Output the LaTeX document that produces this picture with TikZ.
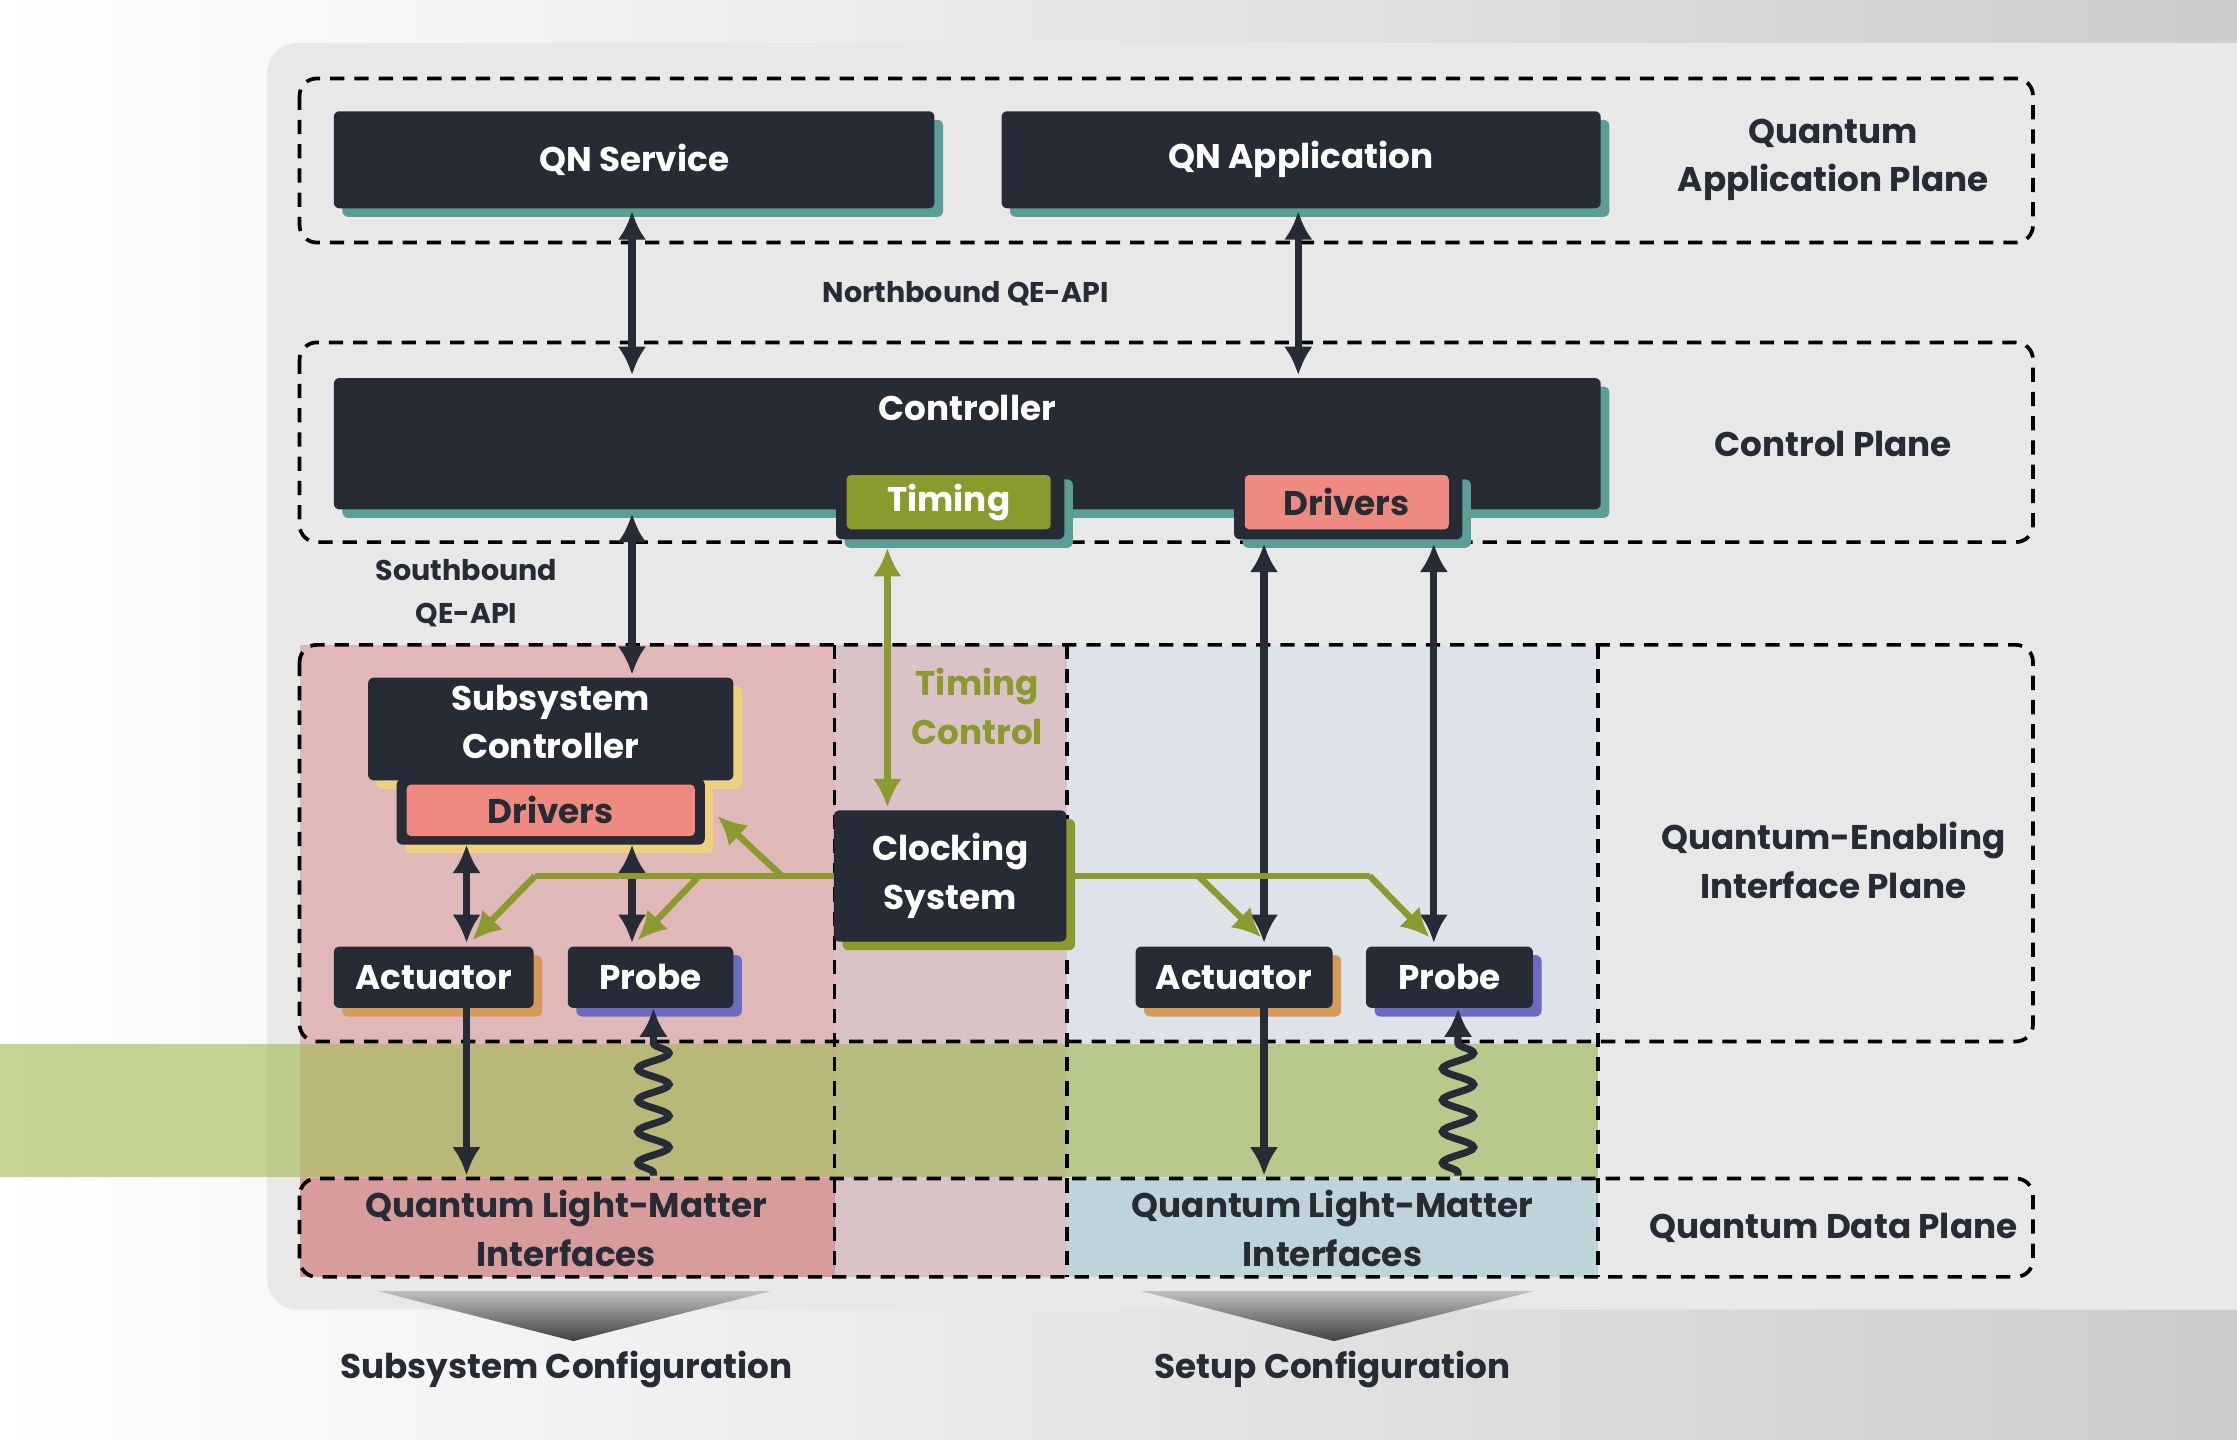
\documentclass[tikz,border=0pt]{standalone}
\usepackage{fontspec}
\setmainfont{Poppins}
\usetikzlibrary{arrows.meta,shadows,decorations.pathmorphing}
\definecolor{dark}{HTML}{262B36}
\definecolor{tealsh}{HTML}{5A9E96}
\definecolor{olive}{HTML}{8A9A2E}
\definecolor{salmon}{HTML}{EE8A80}
\definecolor{yellowsh}{HTML}{F0D080}
\definecolor{orangesh}{HTML}{D59A5A}
\definecolor{purplesh}{HTML}{6B6BC0}
\definecolor{redreg}{HTML}{E0B8B8}
\definecolor{reddata}{HTML}{D99C9C}
\definecolor{midreg}{HTML}{D9C3C6}
\definecolor{bluereg}{HTML}{DDE3E8}
\definecolor{bluedata}{HTML}{BFD3DA}
\definecolor{band}{HTML}{A0B950}
\tikzset{
  box/.style={fill=dark, rounded corners=4pt, text=white, inner sep=0pt, align=center,
    font=\fontsize{24}{34}\selectfont\bfseries,
    drop shadow={shadow xshift=6pt, shadow yshift=-6pt, fill=#1, opacity=1}},
  box/.default=tealsh,
  plane/.style={draw=black, line width=2.6pt, dash pattern=on 10pt off 7pt, rounded corners=12pt},
  vline/.style={draw=black, line width=2.6pt, dash pattern=on 10pt off 7pt},
  lbl/.style={align=center, font=\fontsize{24}{34}\selectfont\bfseries, text=dark},
  api/.style={align=center, font=\fontsize{20}{30}\selectfont\bfseries, text=dark},
  link/.style={draw=dark, line width=5pt, {Latex[length=20pt,width=20pt]}-{Latex[length=20pt,width=20pt]}},
  glink/.style={draw=olive, line width=4.5pt},
}
\begin{document}
\begin{tikzpicture}[x=1pt,y=-1pt]
\useasboundingbox (0,0) rectangle (1568,1009);
% background
\shade[left color=white, right color=black!20] (0,0) rectangle (1568,1009);
\fill[black!9, rounded corners=22pt] (187,30) rectangle (1620,918);
% regions
\fill[redreg] (210,452) rectangle (585,895);
\fill[reddata] (210,826) rectangle (585,895);
\fill[midreg] (585,452) rectangle (748,895);
\fill[bluereg] (748,452) rectangle (1120,895);
\fill[bluedata] (748,826) rectangle (1120,895);
\fill[band, opacity=0.6] (0,732) rectangle (1120,825);
% planes
\draw[plane] (210,55) rectangle (1425,170);
\draw[plane] (210,240) rectangle (1425,380);
\draw[plane] (210,452) rectangle (1425,730);
\draw[plane] (210,826) rectangle (1425,895);
\draw[vline] (585,452) -- (585,895);
\draw[vline] (748,452) -- (748,895);
\draw[vline] (1120,452) -- (1120,895);
% configuration wedges
\shade[top color=black!25, bottom color=black!75] (265,905) -- (540,905) -- (402,940) -- cycle;
\shade[top color=black!25, bottom color=black!75] (800,905) -- (1075,905) -- (935,940) -- cycle;
% nodes
\node[box, minimum width=421pt, minimum height=68pt] (svc) at (444.5,112) {QN Service};
\node[box, minimum width=420pt, minimum height=68pt] (app) at (912,112) {QN Application};
\node[box, minimum width=888pt, minimum height=92pt, text depth=50pt] (ctrl) at (678,311) {Controller};
\node[box, minimum width=160pt, minimum height=48pt] (timf) at (666,354) {};
\node[fill=olive, rounded corners=3pt, minimum width=143pt, minimum height=38pt, inner sep=0pt,
  text=white, font=\fontsize{24}{34}\selectfont\bfseries] (tim) at (665,352) {Timing};
\node[box, minimum width=160pt, minimum height=48pt] (drvf) at (945,354) {};
\node[fill=salmon, rounded corners=3pt, minimum width=143pt, minimum height=38pt, inner sep=0pt,
  text=dark, font=\fontsize{24}{34}\selectfont\bfseries] (drv) at (944,352) {Drivers};
\node[box=yellowsh, minimum width=256pt, minimum height=72pt, text depth=10pt] (sub) at (386,511) {Subsystem\\Controller};
\node[box=yellowsh, minimum width=216pt, minimum height=46pt] (sdrvf) at (386,569) {};
\node[fill=salmon, rounded corners=3pt, minimum width=202pt, minimum height=36pt, inner sep=0pt,
  text=dark, font=\fontsize{24}{34}\selectfont\bfseries] (sdrv) at (386,568) {Drivers};
\node[box=olive, minimum width=163pt, minimum height=92pt] (clk) at (666,614) {Clocking\\System};
\node[box=orangesh, minimum width=140pt, minimum height=43pt] (act1) at (304,685) {Actuator};
\node[box=purplesh, minimum width=116pt, minimum height=43pt] (prb1) at (456,685) {Probe};
\node[box=orangesh, minimum width=138pt, minimum height=43pt] (act2) at (865,685) {Actuator};
\node[box=purplesh, minimum width=117pt, minimum height=43pt] (prb2) at (1016,685) {Probe};
% labels
\node[api] (nb) at (677,206) {Northbound QE-API};
\node[api] (sb) at (327,416) {Southbound\\QE-API};
\node[lbl, text=olive] (tc) at (685,495) {Timing\\Control};
\node[lbl] (qap) at (1285,112) {Quantum\\Application Plane};
\node[lbl] (cp) at (1285,311) {Control Plane};
\node[lbl] (qeip) at (1285,603) {Quantum-Enabling\\Interface Plane};
\node[lbl] (qdp) at (1285,861) {Quantum Data Plane};
\node[lbl] (qlm1) at (397,861) {Quantum Light-Matter\\Interfaces};
\node[lbl] (qlm2) at (934,861) {Quantum Light-Matter\\Interfaces};
\node[lbl] (subc) at (397,960) {Subsystem Configuration};
\node[lbl] (setc) at (934,960) {Setup Configuration};
\coordinate (qd1) at (327,824);
\coordinate (qd2) at (886,824);
\coordinate (qw1) at (458,824);
\coordinate (qw2) at (1022,824);
% connectors
\draw[link] (443,148) -- (443,263);
\draw[link] (910,148) -- (910,263);
\draw[link] (443,360) -- (443,473);
\draw[link] (886,381) -- (886,661);
\draw[link] (1005,381) -- (1005,661);
\draw[link] (327,592) -- (327,661);
\draw[link] (443,592) -- (443,661);
\draw[draw=dark, line width=5pt, -{Latex[length=20pt,width=20pt]}] (act1.south -| qd1) -- (qd1);
\draw[draw=dark, line width=5pt, -{Latex[length=20pt,width=20pt]}] (act2.south -| qd2) -- (qd2);
\draw[draw=dark, line width=5pt, -{Latex[length=20pt,width=20pt]}, decorate,
  decoration={snake, amplitude=11pt, segment length=22pt, pre length=2pt, post length=18pt}] (qw1) -- (prb1.south -| qw1);
\draw[draw=dark, line width=5pt, -{Latex[length=20pt,width=20pt]}, decorate,
  decoration={snake, amplitude=11pt, segment length=22pt, pre length=2pt, post length=18pt}] (qw2) -- (prb2.south -| qw2);
% timing lines
\draw[glink, {Latex[length=20pt,width=20pt]}-{Latex[length=20pt,width=20pt]}] (622,384) -- (622,566);
\draw[glink] (clk.west) -- (375,614);
\draw[glink, -{Latex[length=20pt,width=20pt]}] (375,614) -- (331,659);
\draw[glink, -{Latex[length=20pt,width=20pt]}] (490,614) -- (447,659);
\draw[glink, -{Latex[length=20pt,width=20pt]}] (548,614) -- (503,572);
\draw[glink] (clk.east) -- (960,614);
\draw[glink, -{Latex[length=20pt,width=20pt]}] (840,614) -- (884,657);
\draw[glink, -{Latex[length=20pt,width=20pt]}] (960,614) -- (1002,657);
\end{tikzpicture}
\end{document}
